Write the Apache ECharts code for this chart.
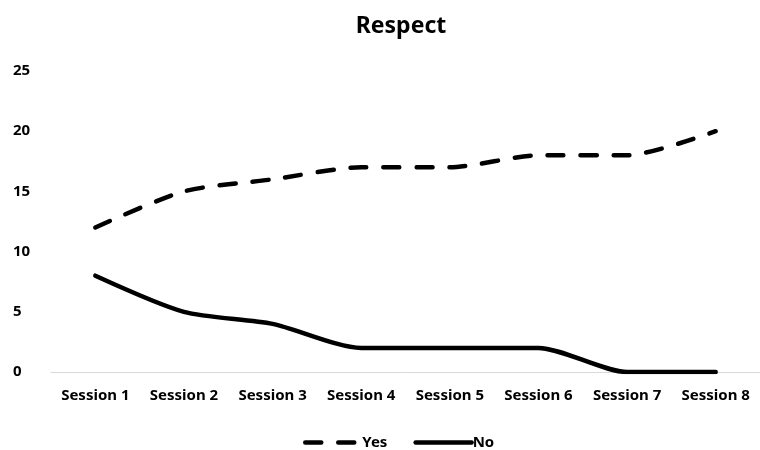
<!DOCTYPE html>
<html><head><meta charset="utf-8">
<script src="https://cdn.jsdelivr.net/npm/echarts@6/dist/echarts.min.js"></script>
<style>html,body{margin:0;padding:0;background:#fff}#c{width:760px;height:450px}</style>
</head><body><div id="c"></div>
<script>
const categories = ['Session 1','Session 2','Session 3','Session 4','Session 5','Session 6','Session 7','Session 8'];
const yesValues = [12, 15, 16, 17, 17, 18, 18, 20];
const noValues = [8, 5, 4, 2, 2, 2, 0, 0];
const yTicks = [0, 5, 10, 15, 20, 25];
const font = 'Noto Sans';
const chart = echarts.init(document.getElementById('c'));
chart.setOption({
  animation: false,
  backgroundColor: '#fff',
  title: { text: 'Respect', left: 396, textAlign: 'center', top: 10,
    textStyle: { fontFamily: font, fontSize: 23, fontWeight: 'bold', color: '#000' } },
  legend: { top: 430, left: 298, itemWidth: 56, itemHeight: 12, itemGap: 26,
    itemStyle: { opacity: 0 },
    lineStyle: { width: 4.5, cap: 'round' },
    textStyle: { fontFamily: font, fontSize: 15, fontWeight: 'bold', color: '#000', padding: [0,0,0,-4] },
    data: ['Yes', 'No'] },
  grid: { left: 51, right: -8, top: 71, bottom: 78, containLabel: false },
  xAxis: { type: 'category', data: categories, boundaryGap: true,
    axisLine: { lineStyle: { color: '#d9d9d9', width: 1 } }, axisTick: { show: false },
    axisLabel: { fontFamily: font, fontSize: 15, fontWeight: 'bold', color: '#000', margin: 16, interval: 0 } },
  yAxis: { type: 'value', min: yTicks[0], max: yTicks[yTicks.length-1], interval: 5,
    splitLine: { show: false }, axisLine: { show: false }, axisTick: { show: false },
    axisLabel: { fontFamily: font, fontSize: 15, fontWeight: 'bold', color: '#000', margin: 38, align: 'left' } },
  series: [
    { name: 'Yes', type: 'line', data: yesValues, smooth: 0.25, showSymbol: false, symbol: 'none',
      lineStyle: { color: '#000', width: 4.5, type: [16, 17], cap: 'round' }, itemStyle: { color: '#000' } },
    { name: 'No', type: 'line', data: noValues, smooth: 0.25, showSymbol: false, symbol: 'none',
      lineStyle: { color: '#000', width: 4.5, cap: 'round' }, itemStyle: { color: '#000' } }
  ]
});
</script></body></html>
